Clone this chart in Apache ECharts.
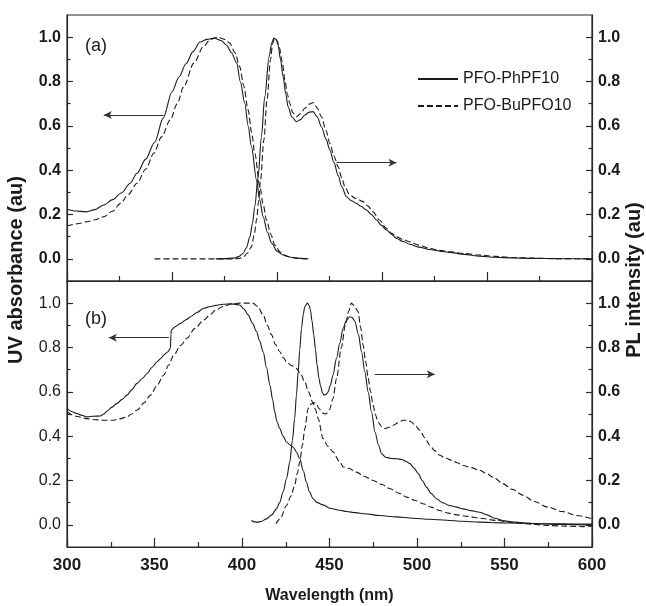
<!DOCTYPE html>
<html>
<head>
<meta charset="utf-8">
<script src="https://cdn.jsdelivr.net/npm/echarts@6/dist/echarts.min.js"></script>
<style>
html,body{margin:0;padding:0;background:#fff;}
#c{width:646px;height:606px;}
</style>
</head>
<body>
<div id="c"></div>
<script>
// ---------- data (wavelength nm, normalized intensity) ----------
const xTicksA = {min: 300, max: 600, interval: 60};
const xTicksB = {min: 300, max: 600, interval: 50};
const yMajorTicks = [0, 0.2, 0.4, 0.6, 0.8, 1.0];
const yMinorTicks = [0.1, 0.3, 0.5, 0.7, 0.9];
const seriesNames = ['PFO-PhPF10', 'PFO-BuPFO10'];

// panel (a)
const uvA_Ph = [[300,0.224],[305,0.216],[311,0.212],[316,0.222],[321,0.243],[326,0.267],[331,0.297],[336,0.34],[340,0.386],[345,0.45],[350,0.525],[355,0.635],[360,0.754],[364,0.82],[368,0.88],[372,0.935],[376,0.978],[380,0.99],[384,0.996],[388,0.985],[391,0.965],[394,0.93],[397,0.883],[399,0.8],[401.6,0.702],[403.5,0.6],[405.4,0.506],[408.3,0.356],[410,0.27],[412.1,0.19],[414.5,0.12],[417,0.07],[420,0.035],[423.5,0.017],[428,0.007],[433,0.002],[437.8,0]];
const uvA_Bu = [[300,0.149],[306,0.158],[311.5,0.167],[316,0.176],[321,0.19],[326,0.215],[330.6,0.25],[335,0.29],[340,0.341],[345,0.405],[349.6,0.476],[354,0.55],[359,0.627],[363,0.70],[366.7,0.777],[372.5,0.883],[378,0.958],[382,0.99],[386.3,1.0],[390,0.99],[393,0.973],[396,0.93],[398.7,0.867],[401,0.78],[403.5,0.672],[405.5,0.57],[407.3,0.476],[410.2,0.325],[412,0.25],[414,0.175],[416.5,0.11],[418.7,0.062],[422,0.03],[425.4,0.012],[430,0.004],[436.8,0]];
const plA_Ph = [[385,0],[390,0.001],[395,0.003],[398,0.01],[400.6,0.024],[402.5,0.05],[404.5,0.099],[406,0.16],[407.3,0.235],[409.2,0.37],[411.1,0.551],[413,0.732],[415.5,0.912],[417,0.975],[418.2,0.996],[419.5,0.99],[420.6,0.965],[422,0.9],[423.5,0.822],[425,0.745],[426.3,0.687],[428.5,0.64],[431.1,0.619],[433.5,0.628],[435.9,0.649],[438.5,0.662],[440.6,0.664],[443,0.64],[445.4,0.596],[448,0.54],[450.2,0.491],[452.5,0.435],[455,0.375],[457,0.325],[459.7,0.28],[462.5,0.262],[465.4,0.25],[468,0.237],[471.1,0.22],[474,0.2],[476.9,0.175],[479.5,0.152],[482.6,0.13],[485.5,0.11],[488.3,0.092],[492,0.078],[495.9,0.066],[501,0.053],[507.3,0.042],[513,0.035],[518.7,0.029],[527,0.02],[535.8,0.012],[545,0.007],[555,0.004],[566,0.002],[580,0.001],[600,0]];
const plA_Bu = [[350,0],[360,0],[370,0],[380,0],[390,0],[395,0],[398.7,0.002],[401,0.01],[403,0.025],[405.4,0.054],[407,0.11],[408.3,0.175],[409.5,0.26],[410.6,0.356],[412.5,0.536],[414.3,0.717],[416.3,0.898],[417.5,0.97],[418.6,0.996],[420,0.985],[421.2,0.958],[423,0.89],[424.5,0.807],[426,0.74],[427.3,0.702],[429,0.66],[431.1,0.641],[433.5,0.655],[435.9,0.679],[438.5,0.698],[441,0.705],[443,0.68],[445.4,0.641],[448,0.58],[450.2,0.521],[452.5,0.465],[454.9,0.416],[457,0.365],[459,0.32],[461.6,0.288],[465,0.272],[469.2,0.258],[472,0.238],[474.9,0.212],[478.5,0.175],[482.6,0.137],[485.5,0.115],[488.3,0.099],[492,0.087],[495.9,0.077],[501,0.062],[507.3,0.047],[513,0.038],[518.7,0.032],[527,0.024],[535.8,0.017],[545,0.011],[555,0.006],[566,0.003],[580,0.001],[600,0]];

// panel (b)
const uvB_Ph = [[300,0.525],[303,0.51],[305.7,0.502],[308,0.495],[311.5,0.487],[315,0.49],[319.1,0.491],[321,0.5],[322.9,0.513],[325.5,0.53],[328.6,0.548],[331.5,0.566],[334.3,0.585],[337,0.61],[340,0.638],[343,0.66],[345.8,0.683],[348.5,0.71],[351.5,0.736],[353.5,0.75],[355.3,0.766],[357.5,0.78],[359.1,0.796],[359.4,0.86],[359.6,0.879],[362,0.895],[364.9,0.909],[368,0.925],[370.6,0.939],[374,0.957],[378.2,0.977],[382,0.985],[385,0.99],[389.2,0.995],[394,0.997],[398.7,0.992],[401,0.975],[403.5,0.947],[406,0.91],[408.3,0.872],[410,0.83],[412.1,0.781],[414,0.71],[416,0.63],[417.5,0.565],[418.7,0.51],[420,0.465],[421.6,0.434],[423.5,0.4],[425.4,0.374],[427.5,0.36],[429.2,0.351],[431,0.33],[433,0.299],[435,0.245],[436.8,0.193],[438.5,0.15],[440.6,0.118],[443,0.1],[446.3,0.09],[450.2,0.075],[455.9,0.066],[459.7,0.06],[465,0.055],[470,0.05],[478.7,0.042],[488,0.036],[497.8,0.03],[507,0.025],[516.9,0.021],[526,0.016],[535.8,0.012],[548,0.009],[560,0.007],[575,0.005],[590,0.004],[600,0.003]];
const uvB_Bu = [[300,0.51],[305,0.49],[311.5,0.479],[316,0.474],[321,0.472],[326.7,0.472],[330,0.478],[334.3,0.487],[337,0.5],[340,0.517],[344,0.55],[347.7,0.585],[351.5,0.63],[355.3,0.676],[358,0.72],[361,0.766],[365,0.81],[368.6,0.842],[373,0.885],[378.2,0.924],[382,0.95],[385,0.97],[389.2,0.985],[394,0.997],[398.7,1.0],[403,1.0],[406.3,1.0],[409,0.985],[412.1,0.947],[414.5,0.9],[416.9,0.857],[419,0.815],[421.6,0.781],[423.5,0.755],[425.4,0.736],[428,0.72],[431.1,0.706],[433.5,0.68],[435.9,0.645],[438,0.6],[440.6,0.55],[442,0.52],[443.5,0.48],[446.3,0.389],[449,0.355],[452,0.329],[455.9,0.283],[457.8,0.261],[461,0.255],[465.4,0.238],[470,0.218],[474.9,0.2],[480,0.182],[484.5,0.163],[490,0.142],[494,0.125],[499,0.11],[503.5,0.095],[508,0.08],[513,0.065],[518,0.053],[522.6,0.045],[529,0.038],[535.8,0.03],[545,0.02],[555,0.01],[565,0.003],[575,-0.003],[585,-0.006],[595,-0.008],[600,-0.005]];
const plB_Ph = [[405.4,0.019],[408.3,0.012],[411,0.015],[414,0.027],[417,0.045],[419.7,0.072],[421.5,0.1],[423.5,0.148],[425.5,0.21],[427.3,0.283],[428.8,0.38],[430.1,0.48],[431.1,0.585],[432.1,0.69],[433,0.79],[434,0.887],[435,0.95],[435.9,0.985],[437.4,1.0],[438.3,0.99],[439.1,0.97],[440,0.92],[441,0.857],[442,0.79],[442.9,0.721],[444,0.66],[444.8,0.63],[446,0.595],[446.9,0.585],[448,0.588],[449.2,0.6],[450.5,0.63],[452,0.676],[454,0.751],[455.9,0.82],[457.8,0.887],[459.5,0.92],[461.6,0.939],[463,0.935],[464.5,0.917],[466.5,0.86],[468.3,0.781],[470.2,0.69],[472.1,0.6],[474,0.51],[476,0.419],[478,0.36],[479.8,0.321],[482,0.305],[485.5,0.299],[488.5,0.298],[491.2,0.295],[493.5,0.287],[495.9,0.276],[498.3,0.256],[500.7,0.231],[503,0.2],[505.4,0.17],[508,0.142],[511.1,0.118],[514.5,0.1],[518.7,0.087],[522.5,0.08],[526.3,0.072],[531,0.064],[535.8,0.057],[540,0.045],[544.2,0.03],[550,0.018],[556,0.012],[562,0.008],[567.8,0.005],[580,0.002],[590,0.001],[600,0]];
const plB_Bu = [[419.4,0.005],[422,0.03],[425.4,0.087],[428,0.13],[430.1,0.178],[431.5,0.23],[433,0.283],[434.5,0.36],[435.9,0.434],[437.8,0.525],[439.5,0.545],[441,0.552],[442.5,0.545],[444,0.525],[446,0.505],[448,0.5],[450,0.52],[452,0.57],[454,0.66],[456.8,0.8],[459,0.9],[461,0.965],[462.5,1.0],[464,0.99],[466.3,0.962],[467.8,0.89],[469.2,0.811],[470.7,0.735],[472.1,0.661],[473.5,0.6],[474.9,0.54],[476.3,0.495],[477.8,0.464],[479.5,0.445],[481.6,0.434],[484,0.44],[486.4,0.449],[489,0.46],[492.1,0.472],[494.5,0.472],[496.9,0.464],[499,0.448],[501.6,0.427],[504.5,0.393],[507.3,0.359],[510,0.335],[513,0.314],[516,0.302],[519.7,0.291],[523,0.28],[526.3,0.268],[531,0.258],[535.8,0.246],[540,0.23],[544.5,0.21],[548.9,0.186],[554.5,0.16],[560.7,0.133],[567,0.105],[574.8,0.08],[583,0.06],[591.3,0.042],[600,0.027]];

// arrows: [xStart, xEnd, y]
const arrowsA = [[355.3, 321.0, 0.649], [454.0, 488.3, 0.434]];
const arrowsB = [[358.2, 323.9, 0.844], [475.9, 510.2, 0.679]];

// ---------- chart ----------
const FONT = "'Liberation Sans', Arial, sans-serif";
const INK = '#1a1a1a';
const FRAME = '#2a2a2a';

function xAxisDef(grid, t, showLabel) {
  return {
    type: 'value', gridIndex: grid, min: t.min, max: t.max, interval: t.interval,
    axisLine: {show: true, onZero: false, lineStyle: {color: FRAME, width: 1.2}},
    axisTick: {show: true, inside: true, length: 9, lineStyle: {color: FRAME, width: 1.2}},
    minorTick: {show: true, splitNumber: 2, length: 5, lineStyle: {color: FRAME, width: 1.2}},
    splitLine: {show: false}, minorSplitLine: {show: false},
    axisLabel: {show: showLabel, margin: 10, color: INK, fontFamily: FONT, fontWeight: 'bold', fontSize: 17}
  };
}
function yAxisDef(grid, pos, major, bold) {
  return {
    type: 'value', gridIndex: grid, position: pos, min: -0.1, max: 1.1,
    axisLine: {show: major, onZero: false, lineStyle: {color: FRAME, width: 1.2}},
    axisTick: {show: true, inside: true, length: major ? 6 : 3.5,
      customValues: major ? yMajorTicks : yMinorTicks, lineStyle: {color: FRAME, width: 1.2}},
    splitLine: {show: false},
    axisLabel: {show: major, customValues: yMajorTicks, margin: 6, color: INK, fontFamily: FONT,
      fontWeight: bold ? 'bold' : 'normal', fontSize: 16, formatter: v => v.toFixed(1)}
  };
}
function line(name, data, xi, yi, dashed, arrows) {
  const s = {
    type: 'line', name, data, xAxisIndex: xi, yAxisIndex: yi,
    symbol: 'none', smooth: 0.3, smoothMonotone: 'x', silent: true,
    lineStyle: {color: INK, width: 1.1, type: dashed ? [6, 3] : 'solid'},
    itemStyle: {color: INK}
  };
  if (arrows) {
    s.markLine = {
      silent: true, symbol: ['none', 'arrow'], symbolSize: [6, 8],
      label: {show: false},
      lineStyle: {color: '#333', width: 1, type: 'solid'},
      data: arrows.map(a => [{coord: [a[0], a[2]]}, {coord: [a[1], a[2]]}])
    };
  }
  return s;
}

const chart = echarts.init(document.getElementById('c'), null, {renderer: 'canvas'});
chart.setOption({
  animation: false,
  backgroundColor: '#fff',
  grid: [
    {left: 67, right: 54, top: 15, height: 266, show: true, borderColor: FRAME, borderWidth: 1.2, backgroundColor: 'transparent'},
    {left: 67, right: 54, top: 281, height: 266, show: true, borderColor: FRAME, borderWidth: 1.2, backgroundColor: 'transparent'}
  ],
  xAxis: [
    xAxisDef(0, xTicksA, false),
    Object.assign(xAxisDef(1, xTicksB, true), {
      name: 'Wavelength (nm)', nameLocation: 'middle', nameGap: 41,
      nameTextStyle: {color: INK, fontFamily: FONT, fontWeight: 'bold', fontSize: 16}
    })
  ],
  yAxis: [
    yAxisDef(0, 'left', true, true), yAxisDef(0, 'left', false, true),
    yAxisDef(0, 'right', true, true), yAxisDef(0, 'right', false, true),
    yAxisDef(1, 'left', true, false), yAxisDef(1, 'left', false, false),
    yAxisDef(1, 'right', true, true), yAxisDef(1, 'right', false, true)
  ],
  legend: {
    orient: 'vertical', left: 417, top: 71, padding: 0, itemWidth: 40, itemHeight: 14, itemGap: 11,
    selectedMode: false,
    itemStyle: {color: 'rgba(0,0,0,0)', borderColor: 'rgba(0,0,0,0)', borderWidth: 0},
    textStyle: {color: INK, fontFamily: FONT, fontSize: 16},
    data: seriesNames
  },
  graphic: [
    {type: 'text', left: 85, top: 37, style: {text: '(a)', fill: INK, font: "18px " + FONT}},
    {type: 'text', left: 85, top: 310, style: {text: '(b)', fill: INK, font: "18px " + FONT}},
    {type: 'text', x: 16, y: 270, rotation: Math.PI / 2,
      style: {text: 'UV absorbance (au)', fill: INK, font: "bold 20px " + FONT, align: 'center', verticalAlign: 'middle'}},
    {type: 'text', x: 634, y: 280, rotation: Math.PI / 2,
      style: {text: 'PL intensity (au)', fill: INK, font: "bold 20px " + FONT, align: 'center', verticalAlign: 'middle'}}
  ],
  series: [
    line(seriesNames[0], uvA_Ph, 0, 0, false, arrowsA),
    line(seriesNames[1], uvA_Bu, 0, 0, true),
    line(seriesNames[0], plA_Ph, 0, 2, false),
    line(seriesNames[1], plA_Bu, 0, 2, true),
    line(seriesNames[0], uvB_Ph, 1, 4, false, arrowsB),
    line(seriesNames[1], uvB_Bu, 1, 4, true),
    line(seriesNames[0], plB_Ph, 1, 6, false),
    line(seriesNames[1], plB_Bu, 1, 6, true)
  ]
});
</script>
</body>
</html>
